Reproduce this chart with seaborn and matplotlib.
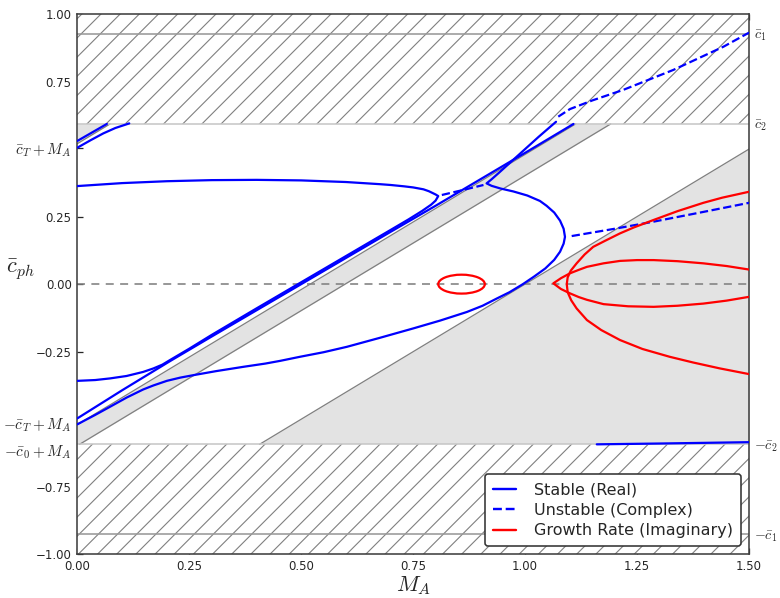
import numpy as np
import matplotlib
matplotlib.use("Agg")
import matplotlib.pyplot as plt
from matplotlib.lines import Line2D
from matplotlib.patches import Ellipse
import seaborn as sns

# ---- characteristic speeds (normalised) ----
c1 = 0.926      # outer cut-off
c2 = 0.593      # inner cut-off
cT = 0.52       # tube speed
c0 = 0.598      # sound speed
c_ext = 1.0     # external speed line

# ---- axis ticks ----
x_ticks = [0.0, 0.25, 0.5, 0.75, 1.0, 1.25, 1.5]
x_tick_labels = ["0.00", "0.25", "0.50", "0.75", "1.00", "1.25", "1.50"]
y_ticks = [1.0, 0.75, 0.505, 0.25, 0.0, -0.25, -0.515, -0.612, -0.75, -1.0]
y_tick_labels = ["1.00", "0.75", r"$\bar{c}_T+M_A$", "0.25", "0.00", "\u22120.25",
                 r"$-\bar{c}_T+M_A$", r"$-\bar{c}_0+M_A$", "\u22120.75", "\u22121.00"]
right_ticks = [c1, c2, -c2, -c1]
right_tick_labels = [r"$\bar{c}_1$", r"$\bar{c}_2$", r"$-\bar{c}_2$", r"$-\bar{c}_1$"]

# ---- stable (real) branches ----
upper_left_a_x = [0.0, 0.066]
upper_left_a_y = [0.530, 0.593]
upper_left_b_x = [0.0, 0.03, 0.058, 0.085, 0.116]
upper_left_b_y = [0.505, 0.533, 0.558, 0.578, 0.595]

# near-straight slow branch
slow_x = [0.0, 0.1, 0.207, 0.3, 0.4, 0.5, 0.6, 0.7, 0.8, 0.9, 1.0, 1.108]
slow_y = [-0.497, -0.393, -0.285, -0.194, -0.097, 0.0, 0.097, 0.194, 0.290,
          0.388, 0.486, 0.593]

# branch from -0.36 that bends up along the slow branch and folds back at the cusp
fold_x = [0.0, 0.04, 0.073, 0.11, 0.147, 0.17, 0.19, 0.207, 0.25, 0.3, 0.4, 0.5,
          0.6, 0.7, 0.74, 0.77, 0.79, 0.8, 0.806, 0.80, 0.795, 0.785, 0.773,
          0.75, 0.73, 0.7, 0.676, 0.6, 0.5, 0.4, 0.3, 0.2, 0.1, 0.0]
fold_y = [-0.358, -0.355, -0.349, -0.34, -0.325, -0.312, -0.298, -0.281, -0.239,
          -0.188, -0.090, 0.007, 0.104, 0.201, 0.240, 0.271, 0.294, 0.309, 0.326,
          0.332, 0.336, 0.344, 0.351, 0.358, 0.362, 0.367, 0.370, 0.378, 0.384,
          0.386, 0.385, 0.381, 0.374, 0.363]

# lower branch that turns round near M_A = 1.09 and rises again
loop_x = [0.0, 0.04, 0.073, 0.11, 0.147, 0.17, 0.2, 0.23, 0.259, 0.31, 0.371,
          0.42, 0.453, 0.497, 0.55, 0.602, 0.675, 0.750, 0.81, 0.870, 0.905,
          0.937, 0.965, 0.995, 1.02, 1.045, 1.065, 1.078, 1.086, 1.089, 1.086,
          1.078, 1.065, 1.048, 1.033, 1.005, 0.974, 0.945, 0.925, 0.914, 0.925,
          0.94, 0.96, 0.99, 1.03, 1.069]
loop_y = [-0.519, -0.484, -0.454, -0.42, -0.39, -0.375, -0.358, -0.346, -0.337,
          -0.322, -0.306, -0.294, -0.284, -0.269, -0.252, -0.232, -0.199, -0.164,
          -0.135, -0.103, -0.080, -0.053, -0.030, 0.0, 0.028, 0.058, 0.09, 0.12,
          0.15, 0.175, 0.205, 0.235, 0.265, 0.29, 0.308, 0.328, 0.343, 0.354,
          0.364, 0.373, 0.388, 0.41, 0.44, 0.485, 0.545, 0.601]

bottom_x = [1.16, 1.3, 1.5]
bottom_y = [-0.593, -0.590, -0.585]

# ---- unstable (complex) real parts ----
dash_mid_x = [0.814, 0.86, 0.907]
dash_mid_y = [0.330, 0.348, 0.367]
dash_right_x = [1.104, 1.2, 1.286, 1.4, 1.5]
dash_right_y = [0.178, 0.205, 0.231, 0.268, 0.301]
dash_top_x = [1.074, 1.1, 1.15, 1.219, 1.331, 1.443, 1.5]
dash_top_y = [0.62, 0.648, 0.68, 0.719, 0.793, 0.879, 0.931]

# ---- growth rates (imaginary parts) ----
bubble_center = (0.858, 0.0)
bubble_width = 0.104
bubble_height = 0.070

growth_outer_x = [1.5, 1.44, 1.398, 1.34, 1.286, 1.243, 1.212, 1.178, 1.152, 1.133,
                  1.115, 1.102, 1.095, 1.093, 1.095, 1.103, 1.115, 1.138, 1.17,
                  1.212, 1.262, 1.323, 1.375, 1.435, 1.5]
growth_outer_y = [0.342, 0.32, 0.301, 0.27, 0.237, 0.21, 0.188, 0.16, 0.138, 0.11,
                  0.077, 0.05, 0.025, 0.0, -0.03, -0.06, -0.09, -0.133, -0.17,
                  -0.207, -0.24, -0.269, -0.29, -0.312, -0.333]
growth_inner_x = [1.5, 1.45, 1.398, 1.34, 1.287, 1.25, 1.212, 1.175, 1.138, 1.12,
                  1.10, 1.08, 1.063, 1.08, 1.10, 1.12, 1.138, 1.175, 1.23, 1.287,
                  1.34, 1.398, 1.45, 1.5]
growth_inner_y = [0.054, 0.067, 0.077, 0.085, 0.089, 0.089, 0.086, 0.077, 0.064,
                  0.053, 0.040, 0.022, 0.003, -0.018, -0.034, -0.048, -0.058,
                  -0.074, -0.082, -0.084, -0.080, -0.072, -0.061, -0.047]

# ---- style ----
sns.set_style("ticks")
plt.rcParams["mathtext.fontset"] = "cm"
plt.rcParams["font.family"] = ["DejaVu Sans"]
plt.rcParams["hatch.linewidth"] = 0.7

DPI = 115
fig = plt.figure(figsize=(780 / DPI, 598 / DPI), dpi=DPI)
ax = fig.add_axes([0.0991, 0.0731, 0.8612, 0.9035])

xmin, xmax = 0.0, 1.5
xg = np.linspace(xmin, xmax, 601)
fill_grey = "0.89"
line_grey = "0.5"

# shaded continua
lo = np.clip(xg - c0, -c2, c2)
hi = np.clip(xg - cT, -c2, c2)
ax.fill_between(xg, lo, hi, where=hi > lo, facecolor=fill_grey, linewidth=0, zorder=1)
lo = np.clip(xg + cT, -c2, c2)
hi = np.clip(xg + c0, -c2, c2)
ax.fill_between(xg, lo, hi, where=hi > lo, facecolor=fill_grey, linewidth=0, zorder=1)
hi = np.clip(xg - c_ext, -c2, c2)
ax.fill_between(xg, -c2, hi, where=hi > -c2, facecolor=fill_grey, linewidth=0, zorder=1)

# hatched forbidden zones
for y0, y1 in [(c2, 1.0), (-1.0, -c2)]:
    ax.fill_between([xmin, xmax], y0, y1, facecolor="white", edgecolor="0.5",
                    hatch="//", linewidth=0, zorder=1)

# boundary lines of the continua
for b in [-c0, -cT, cT, c0, -c_ext]:
    xs = np.clip(np.array([-c2 - b, c2 - b]), xmin, xmax)
    if xs[1] > xs[0]:
        ax.plot(xs, xs + b, color=line_grey, lw=0.8, zorder=2)
for yy in [c1, -c1]:
    ax.axhline(yy, color="0.6", lw=1.0, zorder=2)
for yy in [c2, -c2]:
    ax.axhline(yy, color="0.78", lw=1.0, zorder=2)
ax.axhline(0.0, color="0.5", lw=1.0, ls=(0, (5, 4)), zorder=2)

blue, red = "#0000ff", "#ff0000"
lw = 1.4
for xs, ys in [(upper_left_a_x, upper_left_a_y), (upper_left_b_x, upper_left_b_y),
               (slow_x, slow_y), (fold_x, fold_y), (loop_x, loop_y),
               (bottom_x, bottom_y)]:
    sns.lineplot(x=xs, y=ys, sort=False, estimator=None, color=blue, lw=lw,
                 ax=ax, zorder=4)
for xs, ys in [(dash_mid_x, dash_mid_y), (dash_right_x, dash_right_y),
               (dash_top_x, dash_top_y)]:
    sns.lineplot(x=xs, y=ys, sort=False, estimator=None, color=blue, lw=lw,
                 linestyle="--", ax=ax, zorder=4)
for xs, ys in [(growth_outer_x, growth_outer_y), (growth_inner_x, growth_inner_y)]:
    sns.lineplot(x=xs, y=ys, sort=False, estimator=None, color=red, lw=lw,
                 ax=ax, zorder=4)
ax.add_patch(Ellipse(bubble_center, bubble_width, bubble_height, facecolor="none",
                     edgecolor=red, lw=lw, zorder=4))

ax.set_xlim(xmin, xmax)
ax.set_ylim(-1.0, 1.0)
ax.set_xticks(x_ticks, x_tick_labels)
ax.set_yticks(y_ticks, y_tick_labels)
ax.tick_params(direction="in", top=True, right=True, length=4, width=0.8,
               labelsize=7.4, colors="0.15")
for t in ax.get_yticklabels():
    if "$" in t.get_text():
        t.set_fontsize(9.6)
for s in ax.spines.values():
    s.set_color("0.25")
    s.set_linewidth(1.0)

ax2 = ax.twinx()
ax2.set_ylim(-1.0, 1.0)
ax2.set_yticks(right_ticks, right_tick_labels)
ax2.tick_params(length=0, pad=3, labelsize=8.8, colors="0.15")
for s in ax2.spines.values():
    s.set_visible(False)

ax.set_xlabel(r"$M_A$", fontsize=14)
ax.xaxis.set_label_coords(0.5, -0.036)
ax.set_ylabel(r"$\bar{c}_{ph}$", fontsize=14, rotation=0, ha="center", va="center")
ax.yaxis.set_label_coords(-0.085, 0.526)

handles = [Line2D([], [], color=blue, lw=1.5),
           Line2D([], [], color=blue, lw=1.5, ls="--"),
           Line2D([], [], color=red, lw=1.5)]
labels = ["Stable (Real)", "Unstable (Complex)", "Growth Rate (Imaginary)"]
leg = ax.legend(handles, labels, loc="lower right", fontsize=10, frameon=True,
                fancybox=True, framealpha=1.0, edgecolor="0.2",
                handlelength=1.5, handletextpad=1.1, labelspacing=0.35,
                borderaxespad=0.5, borderpad=0.5)
leg.get_frame().set_linewidth(1.0)
leg.set_zorder(10)

fig.savefig("out.png", dpi=DPI)
